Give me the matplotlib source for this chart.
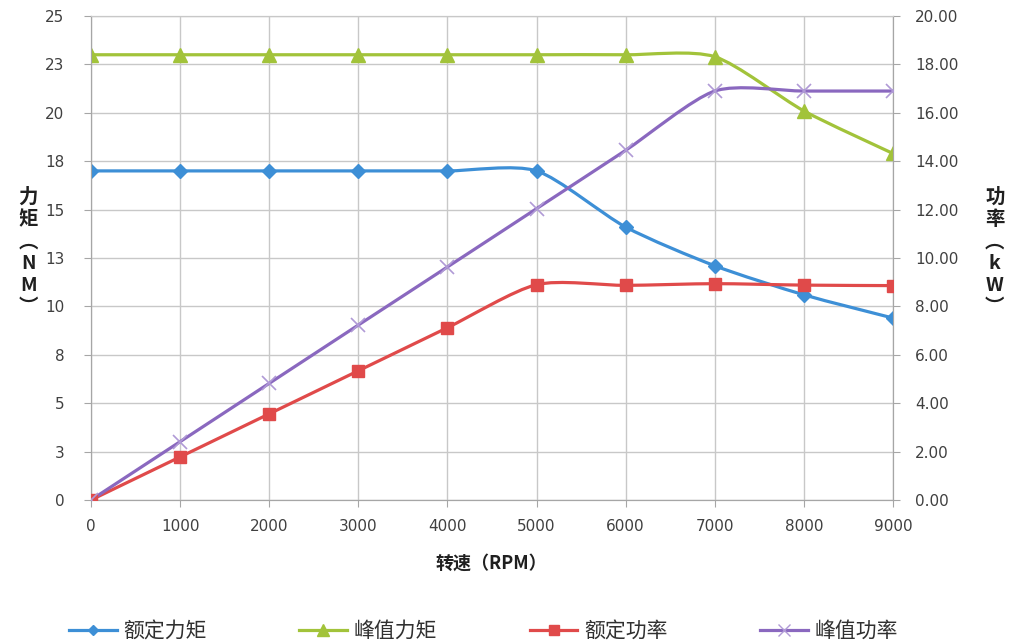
import numpy as np
import matplotlib.pyplot as plt
from matplotlib.path import Path
from matplotlib.patches import PathPatch
from matplotlib.lines import Line2D

plt.rcParams['font.family'] = ['Noto Sans CJK SC', 'DejaVu Sans']

rpm = [0, 1000, 2000, 3000, 4000, 5000, 6000, 7000, 8000, 9000]
rated_torque = [17.0, 17.0, 17.0, 17.0, 17.0, 17.0, 14.1, 12.1, 10.6, 9.4]
peak_torque = [23.0, 23.0, 23.0, 23.0, 23.0, 23.0, 23.0, 22.9, 20.1, 17.9]
rated_power = [0, 1.78, 3.56, 5.34, 7.12, 8.90, 8.87, 8.94, 8.88, 8.86]
peak_power = [0, 2.41, 4.82, 7.23, 9.63, 12.04, 14.45, 16.9, 16.9, 16.9]

left_ticks = [0, 2.5, 5, 7.5, 10, 12.5, 15, 17.5, 20, 22.5, 25]
left_labels = ['0', '3', '5', '8', '10', '13', '15', '18', '20', '23', '25']
right_ticks = [0, 2, 4, 6, 8, 10, 12, 14, 16, 18, 20]

names = ['额定力矩', '峰值力矩', '额定功率', '峰值功率']
colors = ['#3d8fd6', '#a2c33a', '#e04a4a', '#8a68bf']


def smooth_path(x, y, k=8.0):
    # excel style smoothed line: catmull-rom as cubic bezier
    p = np.column_stack([x, y]).astype(float)
    pts = np.vstack([p[0], p, p[-1]])
    verts = [p[0]]
    codes = [Path.MOVETO]
    for i in range(1, len(pts) - 2):
        c1 = pts[i] + (pts[i + 1] - pts[i - 1]) / k
        c2 = pts[i + 1] - (pts[i + 2] - pts[i]) / k
        verts += [c1, c2, pts[i + 1]]
        codes += [Path.CURVE4] * 3
    return Path(verts, codes)


fig = plt.figure(figsize=(10.13, 6.44), dpi=100)
ax = fig.add_axes([0.0898, 0.2236, 0.7917, 0.7515])
ax2 = ax.twinx()

grid_c = '#c8c8c8'
axis_c = '#a6a6a6'
txt_c = '#404040'

styles = [dict(marker='D', ms=7), dict(marker='^', ms=10),
          dict(marker='s', ms=9), dict(marker='x', ms=10, mew=1.2)]
series = [(ax, rated_torque), (ax, peak_torque), (ax2, rated_power), (ax2, peak_power)]
handles = []
for (a, ys), c, st, nm in zip(series, colors, styles, names):
    a.add_patch(PathPatch(smooth_path(rpm, ys), facecolor='none', edgecolor=c, lw=2.3, zorder=3))
    mc = '#b09ad6' if st['marker'] == 'x' else c
    a.plot(rpm, ys, linestyle='none', color=mc, zorder=4, **st)
    handles.append(Line2D([], [], color=c, lw=2.3, marker=st['marker'], ms=st['ms'] * 0.8,
                          markeredgecolor=mc, markerfacecolor=mc, label=nm))

ax.set_xlim(0, 9000)
ax.set_ylim(0, 25)
ax2.set_ylim(0, 20)
ax.set_xticks(rpm)
ax.set_xticklabels([str(r) for r in rpm])
ax.set_yticks(left_ticks)
ax.set_yticklabels(left_labels)
ax2.set_yticks(right_ticks)
ax2.set_yticklabels(['%.2f' % t for t in right_ticks])

ax.grid(True, color=grid_c, lw=1)
ax.set_axisbelow(True)
for a in (ax, ax2):
    a.spines['top'].set_color(grid_c)
    for s in ('left', 'right', 'bottom'):
        a.spines[s].set_color(axis_c)
    a.tick_params(colors=axis_c, labelcolor=txt_c, labelsize=11, length=5, direction='out')
    for lb in a.get_xticklabels() + a.get_yticklabels():
        lb.set_family('DejaVu Sans')
ax.tick_params(axis='x', pad=9)
ax.tick_params(axis='y', pad=14)
ax2.tick_params(axis='y', pad=11)

fig.text(0.028, 0.608, '力\n矩\n︵\nN\nM\n︶', ha='center', va='center', fontsize=14,
         fontweight='bold', color='#202020', linespacing=1.2)
fig.text(0.982, 0.608, '功\n率\n︵\nk\nW\n︶', ha='center', va='center', fontsize=14,
         fontweight='bold', color='#202020', linespacing=1.2)
fig.text(0.485, 0.126, '转速（RPM）', ha='center', va='center', fontsize=13,
         fontweight='bold', color='#202020')

fig.legend(handles=handles, loc='center', bbox_to_anchor=(0.477, 0.02), ncol=4,
           frameon=False, fontsize=15, handlelength=2.3, columnspacing=4.45,
           handletextpad=0.3, labelcolor='#303030')

fig.savefig('out.png', dpi=100)
